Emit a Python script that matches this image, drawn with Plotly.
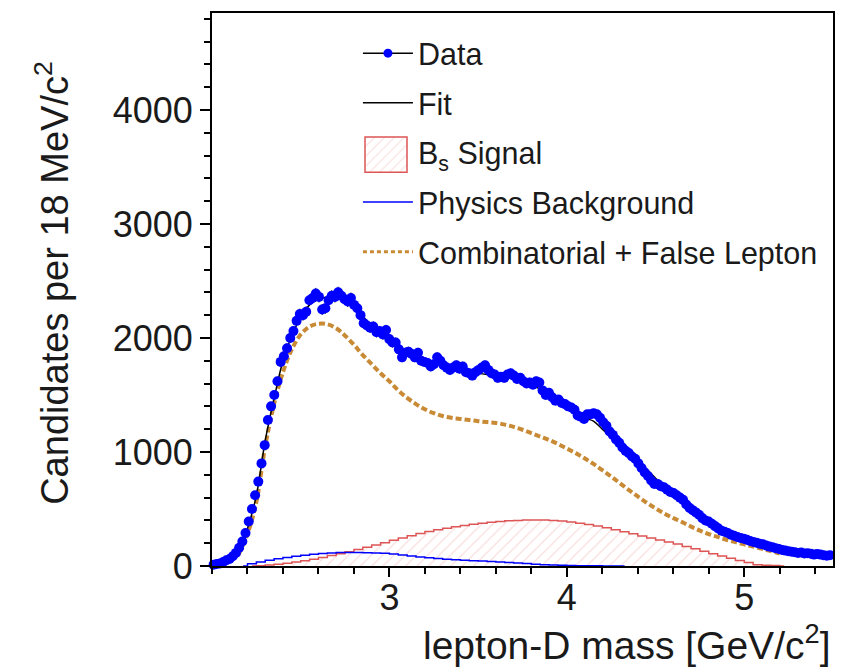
import numpy as np
import plotly.graph_objects as go

# ---- data: 18 MeV bins from 2.0 to 5.5 GeV/c^2 ----
bin_lo = 2.0
bin_w = 0.018
counts = [
    12, 18, 22, 35, 50, 62, 85, 115, 160, 215,
    290, 390, 500, 620, 740, 900, 1060, 1280, 1400, 1500,
    1620, 1790, 1840, 1910, 2000, 2060, 2150, 2210, 2200, 2230,
    2330, 2350, 2390, 2360, 2250, 2260, 2330, 2370, 2360, 2400,
    2370, 2340, 2320, 2350, 2290, 2260, 2200, 2130, 2110, 2090,
    2100, 2050, 2060, 2030, 2070, 1990, 1960, 1960, 1900, 1830,
    1870, 1880, 1860, 1830, 1870, 1800, 1790, 1780, 1750, 1770,
    1830, 1800, 1760, 1740, 1720, 1740, 1760, 1730, 1750, 1700,
    1690, 1670, 1700, 1720, 1740, 1760, 1720, 1690, 1680, 1650,
    1660, 1650, 1680, 1690, 1670, 1640, 1650, 1620, 1600, 1610,
    1590, 1620, 1610, 1540, 1500, 1520, 1480, 1450, 1460, 1430,
    1420, 1400, 1390, 1370, 1320, 1310, 1290, 1330, 1330, 1340,
    1330, 1300, 1260, 1230, 1180, 1150, 1110, 1080, 1040, 1010,
    990, 960, 940, 900, 860, 820, 790, 750, 720, 720,
    700, 690, 670, 650, 640, 620, 600, 580, 540, 510,
    490, 470, 450, 420, 400, 390, 370, 350, 330, 310,
    300, 290, 275, 265, 255, 245, 240, 230, 220, 210,
    205, 195, 190, 180, 170, 165, 155, 150, 140, 135,
    130, 125, 120, 115, 118, 110, 112, 108, 100, 105,
    100, 95, 90, 95,
]
mass = [round(bin_lo + bin_w * (i + 0.5), 4) for i in range(len(counts))]

# ---- fit components sampled every 50 MeV ----
fit_x = [round(2.0 + 0.05 * i, 2) for i in range(71)]
fit_y = [
    10, 25, 60, 140, 330, 620, 1100, 1470, 1800, 2020,
    2180, 2290, 2340, 2360, 2360, 2330, 2270, 2190, 2110, 2040,
    1980, 1920, 1880, 1840, 1800, 1780, 1760, 1740, 1720, 1700,
    1690, 1680, 1670, 1660, 1640, 1620, 1590, 1550, 1510, 1460,
    1410, 1360, 1300, 1270, 1200, 1130, 1060, 1000, 925, 850,
    770, 700, 630, 570, 510, 450, 390, 340, 300, 260,
    230, 205, 180, 160, 145, 130, 120, 110, 105, 100, 95,
]

comb_x = [round(2.15 + 0.05 * i, 2) for i in range(62)]
comb_y = [
    100, 280, 560, 1050, 1420, 1700, 1900, 2030, 2100, 2125,
    2120, 2085, 2020, 1940, 1850, 1770, 1690, 1620, 1540, 1475,
    1420, 1375, 1340, 1315, 1300, 1290, 1280, 1270, 1262, 1255,
    1240, 1220, 1195, 1165, 1135, 1105, 1070, 1030, 990, 945,
    895, 840, 785, 725, 665, 610, 555, 505, 460, 420,
    385, 345, 310, 280, 255, 230, 210, 190, 170, 150,
    130, 110,
]

# B_s signal histogram (50 MeV bins, centres)
sig_x = [round(2.225 + 0.05 * i, 3) for i in range(61)]
sig_y = [
    0, 3, 8, 15, 25, 35, 47, 60, 75, 92,
    108, 125, 145, 165, 185, 205, 225, 245, 265, 285,
    302, 318, 332, 345, 356, 366, 375, 383, 390, 396,
    400, 403, 404, 403, 400, 394, 386, 376, 364, 350,
    335, 318, 300, 282, 264, 245, 228, 210, 192, 172,
    152, 130, 108, 88, 68, 48, 30, 12, 6, 4,
    0,
]

# physics background histogram (50 MeV bins, centres)
phys_x = [round(2.175 + 0.05 * i, 3) for i in range(44)]
phys_y = [
    0, 20, 35, 50, 63, 75, 85, 95, 103, 110,
    115, 118, 119, 118, 117, 115, 112, 105, 97, 88,
    80, 73, 66, 60, 55, 51, 47, 44, 40, 36,
    31, 26, 21, 16, 12, 9, 6, 4, 3, 2,
    2, 1, 1, 0,
]

BLUE = "#0000ff"
RED = "#dd5555"
HATCH = "#f4bcbc"
ORANGE = "#c98a35"
FONT = "Arial, Liberation Sans, sans-serif"
TXT = "#1a1a1a"

# legend swatch box for the signal entry (paper coordinates)
SWATCH = dict(x0=0.2464, x1=0.314, y0=0.7122, y1=0.7756)

fig = go.Figure()

# legend-only entries
fig.add_trace(go.Scatter(
    x=[None], y=[None], name="Data", mode="lines+markers",
    line=dict(color="black", width=1.5),
    marker=dict(color=BLUE, size=9), legendgroup="a",
))
fig.add_trace(go.Scatter(
    x=[None], y=[None], name="Fit", mode="lines",
    line=dict(color="black", width=1.5), legendgroup="b",
))
fig.add_trace(go.Scatter(
    x=[None], y=[None], name="B<sub>s</sub> Signal", mode="lines",
    line=dict(color="rgba(0,0,0,0)", width=0), legendgroup="c",
))
fig.add_trace(go.Scatter(
    x=[None], y=[None], name="Physics Background", mode="lines",
    line=dict(color=BLUE, width=1.5), legendgroup="d",
))
fig.add_trace(go.Scatter(
    x=[None], y=[None], name="Combinatorial + False Lepton", mode="lines",
    line=dict(color=ORANGE, width=3, dash="4px,3px"), legendgroup="e",
))

# hatched fill of the signal swatch (small inset axes)
fig.add_trace(go.Bar(
    x=[0.5], y=[1], width=[1], xaxis="x2", yaxis="y2",
    marker=dict(color="white", line=dict(width=0),
                pattern=dict(shape="/", fgcolor=HATCH, size=7, solidity=0.15)),
    showlegend=False, hoverinfo="skip",
))

# plotted components
fig.add_trace(go.Scatter(
    x=sig_x, y=sig_y, mode="lines", line_shape="hvh",
    line=dict(color=RED, width=1.5), fill="tozeroy",
    fillcolor="rgba(255,255,255,0)",
    fillpattern=dict(shape="/", fgcolor=HATCH, size=8, solidity=0.15),
    showlegend=False,
))
fig.add_trace(go.Scatter(
    x=phys_x, y=phys_y, mode="lines", line_shape="hvh",
    line=dict(color=BLUE, width=1.5), showlegend=False,
))
fig.add_trace(go.Scatter(
    x=comb_x, y=comb_y, mode="lines", line_shape="spline",
    line=dict(color=ORANGE, width=4, dash="6px,3px"), showlegend=False,
))
fig.add_trace(go.Scatter(
    x=fit_x, y=fit_y, mode="lines", line_shape="spline",
    line=dict(color="black", width=1.5), showlegend=False,
))
fig.add_trace(go.Scatter(
    x=mass, y=counts, mode="markers",
    marker=dict(color=BLUE, size=10),
    error_y=dict(type="sqrt", color="black", thickness=1, width=0),
    error_x=dict(type="constant", value=bin_w / 2, color="black", thickness=1, width=0),
    cliponaxis=False, showlegend=False,
))

fig.update_layout(
    width=848, height=671,
    margin=dict(l=212, r=15, t=13, b=105),
    paper_bgcolor="white", plot_bgcolor="white",
    font=dict(family=FONT, color=TXT),
    bargap=0,
    legend=dict(
        x=0.235, y=0.975, xanchor="left", yanchor="top",
        font=dict(size=30.5, family=FONT, color=TXT),
        bgcolor="rgba(0,0,0,0)", borderwidth=0,
        tracegroupgap=7, itemwidth=50, traceorder="grouped",
    ),
    xaxis=dict(
        range=[2.0, 5.5], tickmode="array", tickvals=[3, 4, 5],
        ticks="outside", ticklen=9, tickwidth=1.5, tickcolor="black",
        tickfont=dict(size=36, family=FONT, color=TXT),
        ticklabelstandoff=-10,
        showline=True, linecolor="black", linewidth=2, mirror=True,
        showgrid=False, zeroline=False,
        minor=dict(tickmode="linear", tick0=2.0, dtick=0.2, ticks="outside",
                   ticklen=6, tickwidth=1.5, tickcolor="black", showgrid=False),
    ),
    yaxis=dict(
        range=[0, 4850], tickmode="linear", tick0=0, dtick=1000,
        ticks="outside", ticklen=10, tickwidth=1.5, tickcolor="black",
        tickfont=dict(size=36, family=FONT, color=TXT),
        showline=True, linecolor="black", linewidth=2, mirror=True,
        showgrid=False, zeroline=False,
        minor=dict(tickmode="linear", tick0=0, dtick=200, ticks="outside",
                   ticklen=6, tickwidth=1.5, tickcolor="black", showgrid=False),
    ),
    xaxis2=dict(domain=[SWATCH["x0"], SWATCH["x1"]], anchor="y2", range=[0, 1],
                visible=False, fixedrange=True),
    yaxis2=dict(domain=[SWATCH["y0"], SWATCH["y1"]], anchor="x2", range=[0, 1],
                visible=False, fixedrange=True),
    shapes=[
        dict(type="rect", xref="paper", yref="paper", layer="above",
             line=dict(color=RED, width=1.5), fillcolor="rgba(0,0,0,0)",
             **SWATCH),
    ],
    annotations=[
        dict(text="lepton-D mass [GeV/c<sup>2</sup>]", xref="paper", yref="paper",
             x=1.0, y=-0.138, xanchor="right", yanchor="middle", showarrow=False,
             font=dict(size=39, family=FONT, color=TXT)),
        dict(text="Candidates per 18 MeV/c<sup>2</sup>", xref="paper", yref="paper",
             x=-0.2577, y=0.512, xanchor="center", yanchor="middle", showarrow=False,
             textangle=-90, font=dict(size=38, family=FONT, color=TXT)),
    ],
)

fig.write_html("out.html")
